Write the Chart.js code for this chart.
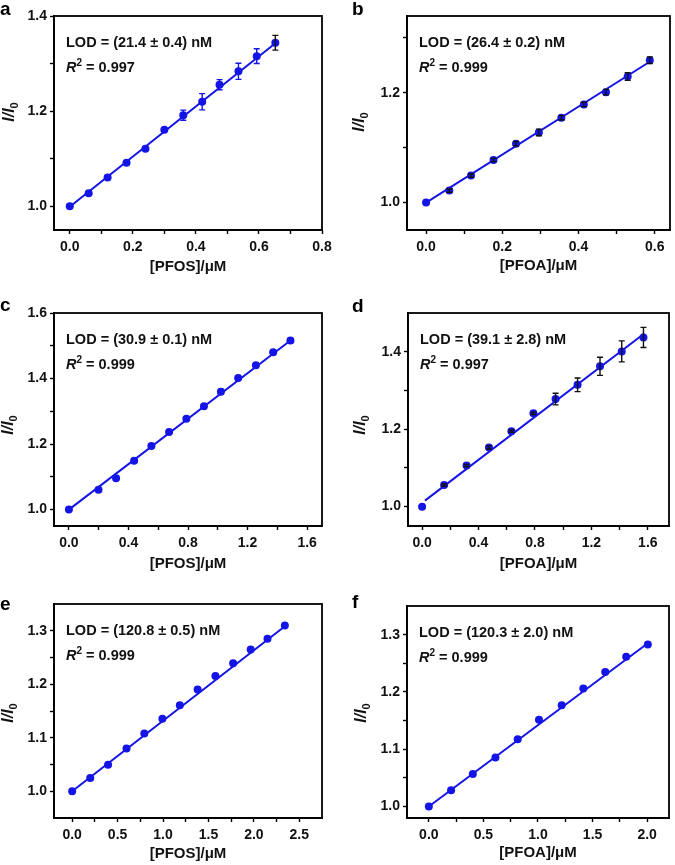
<!DOCTYPE html>
<html>
<head>
<meta charset="utf-8">
<script src="https://cdn.jsdelivr.net/npm/chart.js@4.4.1/dist/chart.umd.min.js"></script>
<style>
  body { margin: 0; background: #fff; }
  #wrap { position: relative; width: 675px; height: 865px; overflow: hidden; }
  #wrap canvas { position: absolute; }
</style>
</head>
<body>
<div id="wrap"></div>
<script>
/* Calibration curves, six panels (a-f) */

const BLUE = '#1414e6';
const BLACK = '#111';
const FONT = "'Liberation Sans', Arial, Helvetica, sans-serif";

// ── panel a: PFOS ──
const aConc  = [0, 0.06, 0.12, 0.18, 0.24, 0.30, 0.36, 0.42, 0.475, 0.535, 0.593, 0.652];
const aRatio = [1.0, 1.0275, 1.0606, 1.0915, 1.121, 1.161, 1.1915, 1.2197, 1.2556, 1.2838, 1.3155, 1.3437];
const aErr   = [0, 0.003, 0.004, 0.003, 0.003, 0.003, 0.0106, 0.017, 0.0106, 0.017, 0.0155, 0.0155];
const aErrColor = [BLUE, BLUE, BLUE, BLUE, BLUE, BLUE, BLUE, BLUE, BLUE, BLUE, BLUE, BLACK];
const aFitX = [0, 0.66];
const aFitY = [0.999, 1.347];
const aXTicks = [0, 0.2, 0.4, 0.6, 0.8];
const aYTicks = [1.0, 1.2, 1.4];

// ── panel b: PFOA ──
const bConc  = [0, 0.061, 0.118, 0.177, 0.236, 0.296, 0.355, 0.414, 0.472, 0.529, 0.587];
const bRatio = [1.0, 1.0218, 1.0491, 1.0776, 1.1073, 1.1279, 1.1545, 1.1788, 1.2012, 1.2297, 1.2594];
const bErr   = [0, 0.003, 0.003, 0.003, 0.004, 0.006, 0.004, 0.004, 0.005, 0.007, 0.006];
const bErrColor = [BLUE, BLACK, BLACK, BLACK, BLACK, BLACK, BLACK, BLACK, BLACK, BLACK, BLACK];
const bFitX = [0, 0.59];
const bFitY = [1.0, 1.258];
const bXTicks = [0, 0.2, 0.4, 0.6];
const bYTicks = [1.0, 1.2];

// ── panel c: PFOS ──
const cConc  = [0, 0.199, 0.317, 0.438, 0.554, 0.673, 0.789, 0.907, 1.021, 1.137, 1.256, 1.372, 1.488];
const cRatio = [1.0, 1.0609, 1.0954, 1.1492, 1.1939, 1.2365, 1.2772, 1.3157, 1.3594, 1.402, 1.4406, 1.4802, 1.5157];
const cErr   = [0, 0.002, 0.002, 0.002, 0.002, 0.003, 0.002, 0.002, 0.007, 0.003, 0.002, 0.002, 0.007];
const cErrColor = [BLUE, BLUE, BLUE, BLUE, BLUE, BLUE, BLUE, BLUE, BLUE, BLUE, BLUE, BLUE, BLUE];
const cFitX = [0, 1.49];
const cFitY = [1.0, 1.517];
const cXTicks = [0, 0.4, 0.8, 1.2, 1.6];
const cYTicks = [1.0, 1.2, 1.4, 1.6];

// ── panel d: PFOA ──
const dConc  = [0, 0.156, 0.315, 0.474, 0.633, 0.789, 0.946, 1.102, 1.261, 1.415, 1.569];
const dRatio = [1.0, 1.0556, 1.106, 1.153, 1.1949, 1.241, 1.2778, 1.3145, 1.3624, 1.4009, 1.4368];
const dErr   = [0, 0.003, 0.003, 0.004, 0.003, 0.003, 0.015, 0.0175, 0.0235, 0.027, 0.026];
const dErrColor = [BLUE, BLACK, BLACK, BLACK, BLACK, BLACK, BLACK, BLACK, BLACK, BLACK, BLACK];
const dFitX = [0.02, 1.575];
const dFitY = [1.0155, 1.447];
const dXTicks = [0, 0.4, 0.8, 1.2, 1.6];
const dYTicks = [1.0, 1.2, 1.4];

// ── panel e: PFOS ──
const eConc  = [0, 0.199, 0.395, 0.598, 0.794, 0.993, 1.185, 1.381, 1.577, 1.772, 1.965, 2.15, 2.341];
const eRatio = [1.0, 1.025, 1.0494, 1.08, 1.1081, 1.1356, 1.1606, 1.19, 1.2156, 1.2394, 1.265, 1.285, 1.31];
const eErr   = [0, 0, 0, 0, 0, 0, 0, 0, 0, 0, 0, 0, 0];
const eErrColor = [];
const eFitX = [0, 2.345];
const eFitY = [1.0, 1.309];
const eXTicks = [0, 0.5, 1.0, 1.5, 2.0, 2.5];
const eYTicks = [1.0, 1.1, 1.2, 1.3];

// ── panel f: PFOA ──
const fConc  = [0, 0.204, 0.403, 0.61, 0.814, 1.009, 1.217, 1.415, 1.616, 1.808, 2.006];
const fRatio = [1.0, 1.0283, 1.0566, 1.0855, 1.1173, 1.1514, 1.1769, 1.2058, 1.2347, 1.2613, 1.2827];
const fErr   = [0, 0, 0, 0, 0, 0, 0, 0, 0, 0, 0];
const fErrColor = [];
const fFitX = [0, 2.006];
const fFitY = [1.0, 1.285];
const fXTicks = [0, 0.5, 1.0, 1.5, 2.0];
const fYTicks = [1.0, 1.1, 1.2, 1.3];

const lodText = ['LOD = (21.4 ± 0.4) nM', 'LOD = (26.4 ± 0.2) nM', 'LOD = (30.9 ± 0.1) nM',
                 'LOD = (39.1 ± 2.8) nM', 'LOD = (120.8 ± 0.5) nM', 'LOD = (120.3 ± 2.0) nM'];
const r2Text  = ['0.997', '0.999', '0.999', '0.997', '0.999', '0.999'];
const xTitles = ['[PFOS]/μM', '[PFOA]/μM', '[PFOS]/μM', '[PFOA]/μM', '[PFOS]/μM', '[PFOA]/μM'];
const letters = ['a', 'b', 'c', 'd', 'e', 'f'];

// layout: canvas rect, plot box (page px), axis ranges, label positions (canvas px)
const panels = [
  { cx: 0,   cy: 0,   w: 337, h: 288, box: [54, 16, 322, 230],   xr: [-0.05, 0.8],  yr: [0.95, 1.4],
    conc: aConc, ratio: aRatio, err: aErr, errColor: aErrColor, fitX: aFitX, fitY: aFitY, xt: aXTicks, yt: aYTicks,
    titlePad: 12, yLab: [8, 112], let: [0, 15] },
  { cx: 337, cy: 0,   w: 338, h: 288, box: [407, 16, 670, 230],  xr: [-0.05, 0.64], yr: [0.95, 1.34],
    conc: bConc, ratio: bRatio, err: bErr, errColor: bErrColor, fitX: bFitX, fitY: bFitY, xt: bXTicks, yt: bYTicks,
    titlePad: 13, yLab: [21, 122], let: [15, 15] },
  { cx: 0,   cy: 288, w: 337, h: 290, box: [54, 313, 322, 526],  xr: [-0.1, 1.7],   yr: [0.95, 1.6],
    conc: cConc, ratio: cRatio, err: cErr, errColor: cErrColor, fitX: cFitX, fitY: cFitY, xt: cXTicks, yt: cYTicks,
    titlePad: 5, yLab: [7, 137], let: [0, 23] },
  { cx: 337, cy: 288, w: 338, h: 290, box: [408, 313, 669, 526], xr: [-0.1, 1.75],  yr: [0.95, 1.5],
    conc: dConc, ratio: dRatio, err: dErr, errColor: dErrColor, fitX: dFitX, fitY: dFitY, xt: dXTicks, yt: dYTicks,
    titlePad: 5, yLab: [22, 137], let: [15, 24] },
  { cx: 0,   cy: 578, w: 337, h: 287, box: [54, 604, 322, 818],  xr: [-0.2, 2.75],  yr: [0.95, 1.35],
    conc: eConc, ratio: eRatio, err: eErr, errColor: eErrColor, fitX: eFitX, fitY: eFitY, xt: eXTicks, yt: eYTicks,
    titlePad: 2, yLab: [7, 135], let: [0, 32] },
  { cx: 337, cy: 578, w: 338, h: 287, box: [407, 606, 669, 818], xr: [-0.2, 2.2],   yr: [0.98, 1.35],
    conc: fConc, ratio: fRatio, err: fErr, errColor: fErrColor, fitX: fFitX, fitY: fFitY, xt: fXTicks, yt: fYTicks,
    titlePad: 3, yLab: [23, 135], let: [15, 30] },
];

// major ticks plus half-step minor ticks inside the range
function withMinor(majors, min, max) {
  const step = majors[1] - majors[0];
  const out = majors.slice();
  for (let v = majors[0] - step / 2; v < max; v += step) {
    if (v > min + 1e-9 && v < max - 1e-9) out.push(+v.toFixed(4));
  }
  return out.sort((p, q) => p - q);
}

function drawRuns(ctx, runs, x, y) {
  runs.forEach(r => {
    ctx.font = r.f;
    ctx.fillText(r.t, x, y + (r.dy || 0));
    x += ctx.measureText(r.t).width;
  });
  return x;
}

function runsWidth(ctx, runs) {
  let w = 0;
  runs.forEach(r => { ctx.font = r.f; w += ctx.measureText(r.t).width; });
  return w;
}

function panelPlugin(p, i) {
  return {
    id: 'panel' + i,
    afterDatasetsDraw(chart) {
      const { ctx, scales: { x, y } } = chart;
      ctx.save();
      ctx.lineWidth = 1.4;
      p.err.forEach((e, k) => {
        if (!e) return;
        const px = x.getPixelForValue(p.conc[k]);
        const y1 = y.getPixelForValue(p.ratio[k] - e);
        const y2 = y.getPixelForValue(p.ratio[k] + e);
        ctx.strokeStyle = p.errColor[k] || BLUE;
        ctx.beginPath();
        ctx.moveTo(px, y1); ctx.lineTo(px, y2);
        ctx.moveTo(px - 3, y1); ctx.lineTo(px + 3, y1);
        ctx.moveTo(px - 3, y2); ctx.lineTo(px + 3, y2);
        ctx.stroke();
      });
      ctx.restore();
    },
    afterDraw(chart) {
      const { ctx, chartArea: ca } = chart;
      ctx.save();
      ctx.strokeStyle = '#000';
      ctx.lineWidth = 1.8;
      ctx.strokeRect(ca.left, ca.top, ca.right - ca.left, ca.bottom - ca.top);

      ctx.fillStyle = '#111';
      ctx.textBaseline = 'alphabetic';
      ctx.textAlign = 'left';
      const tx = ca.left + 12;
      drawRuns(ctx, [{ t: lodText[i], f: `bold 14.5px ${FONT}` }], tx, ca.top + 31);
      drawRuns(ctx, [
        { t: 'R', f: `italic bold 14.5px ${FONT}` },
        { t: '2', f: `bold 10px ${FONT}`, dy: -6 },
        { t: ' = ' + r2Text[i], f: `bold 14.5px ${FONT}` },
      ], tx, ca.top + 56);

      // y axis title I/I0
      const yRuns = [
        { t: 'I/I', f: `italic bold 16px ${FONT}` },
        { t: '0', f: `bold 11px ${FONT}`, dy: 4 },
      ];
      ctx.translate(p.yLab[0], p.yLab[1]);
      ctx.rotate(-Math.PI / 2);
      drawRuns(ctx, yRuns, -runsWidth(ctx, yRuns) / 2, 5.7);
      ctx.restore();

      ctx.save();
      ctx.fillStyle = '#000';
      ctx.font = `bold 19px ${FONT}`;
      ctx.fillText(letters[i], p.let[0], p.let[1]);
      ctx.restore();
    },
  };
}

function axis(range, majors, extra) {
  const all = withMinor(majors, range[0], range[1]);
  return Object.assign({
    type: 'linear',
    min: range[0],
    max: range[1],
    afterBuildTicks: s => { s.ticks = all.map(v => ({ value: v })); },
    ticks: {
      autoSkip: false,
      maxRotation: 0,
      color: '#111',
      font: { family: FONT, size: 14, weight: 'bold' },
      callback: v => majors.some(m => Math.abs(m - v) < 1e-9) ? v.toFixed(1) : '',
    },
    grid: { drawOnChartArea: false, drawTicks: true, tickLength: 4, tickColor: '#000', tickWidth: 1.4 },
    border: { display: true, color: '#000', width: 1.8 },
  }, extra);
}

panels.forEach((p, i) => {
  const cv = document.createElement('canvas');
  cv.width = p.w; cv.height = p.h;
  cv.style.left = p.cx + 'px'; cv.style.top = p.cy + 'px';
  cv.style.width = p.w + 'px'; cv.style.height = p.h + 'px';
  document.getElementById('wrap').appendChild(cv);

  const yW = p.box[0] - p.cx;
  const xH = p.cy + p.h - p.box[3];

  const xAxis = axis(p.xr, p.xt, {
    afterFit: s => { s.height = xH; },
    title: { display: true, text: xTitles[i], color: '#111', font: { family: FONT, size: 15, weight: 'bold' },
             padding: { top: 0, bottom: p.titlePad } },
  });
  xAxis.ticks.padding = 5;
  const yAxis = axis(p.yr, p.yt, { afterFit: s => { s.width = yW; } });
  yAxis.ticks.padding = 3;

  new Chart(cv, {
    type: 'scatter',
    data: {
      datasets: [
        {
          type: 'line', order: 2,
          data: p.fitX.map((v, k) => ({ x: v, y: p.fitY[k] })),
          borderColor: BLUE, borderWidth: 2, pointRadius: 0, fill: false,
        },
        {
          order: 1,
          data: p.conc.map((v, k) => ({ x: v, y: p.ratio[k] })),
          backgroundColor: BLUE, borderColor: BLUE, borderWidth: 0, pointRadius: 4,
        },
      ],
    },
    options: {
      responsive: false,
      animation: false,
      devicePixelRatio: 1,
      layout: { padding: { left: 0, bottom: 0, top: p.box[1] - p.cy, right: p.cx + p.w - p.box[2] } },
      plugins: { legend: { display: false }, tooltip: { enabled: false } },
      scales: { x: xAxis, y: yAxis },
    },
    plugins: [panelPlugin(p, i)],
  });
});
</script>
</body>
</html>
